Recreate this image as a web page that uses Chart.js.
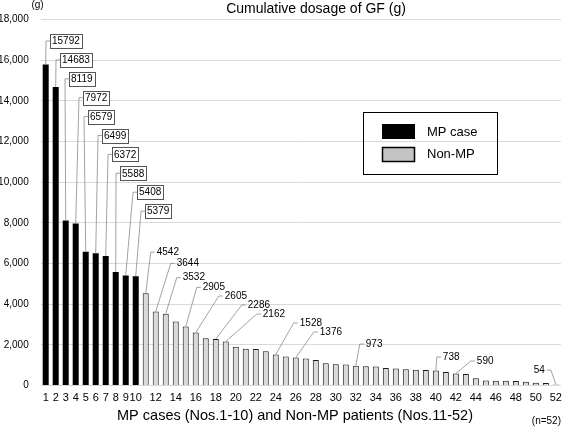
<!DOCTYPE html>
<html>
<head>
<meta charset="utf-8">
<script src="https://cdn.jsdelivr.net/npm/chart.js@4.4.1/dist/chart.umd.min.js"></script>
<style>
  html, body { margin: 0; padding: 0; background: #fff; overflow: hidden; }
  #wrap { width: 562px; height: 428px; position: relative; }
</style>
</head>
<body>
<div id="wrap"><canvas id="gfChart"></canvas></div>
<script>
// data
const cases = ["1","2","3","4","5","6","7","8","9","10","11","12","13","14","15","16","17","18",
  "19","20","21","22","23","24","25","26","27","28","29","30","31","32","33","34","35","36",
  "37","38","39","40","41","42","43","44","45","46","47","48","49","50","51","52"];
const mpDosage = [15792, 14683, 8119, 7972, 6579, 6499, 6372, 5588, 5408, 5379];
const nonMpDosage = [4542, 3644, 3532, 3150, 2905, 2605, 2320, 2286, 2162, 1900, 1810, 1800,
  1690, 1528, 1430, 1376, 1330, 1260, 1090, 1040, 1030, 973, 950, 940, 860, 840, 800, 780,
  760, 738, 670, 590, 560, 360, 240, 230, 230, 225, 180, 130, 125, 54];
const yTicks = [0, 2000, 4000, 6000, 8000, 10000, 12000, 14000, 16000, 18000];
const boxedCases = [1, 2, 3, 4, 5, 6, 7, 8, 9, 10];
const plainCases = [11, 12, 13, 15, 16, 18, 19, 24, 26, 32, 40, 42, 52];

const FONT = "'Liberation Sans', Arial, Helvetica, sans-serif";

// callout placement (pixel offsets from the bar top)
const boxDx = [4.3, 4.3, 3.3, 7.3, 2.3, 6.3, 6.3, 4.3, 11.3, 9.3];
const plainOffsets = {
  11: [11, -41], 12: [21, -48], 13: [17, -36], 15: [17, -39], 16: [29, -36.5],
  18: [32, -34], 19: [37, -27.5], 24: [24, -31.5], 26: [24, -25.5], 32: [10, -21.7],
  40: [7, -13.5], 42: [21, -12.5], 52: [-11, -14.4]
};

const allDosage = mpDosage.concat(nonMpDosage);
const mpSeries = cases.map((c, i) => (i < mpDosage.length ? mpDosage[i] : null));
const nonMpSeries = cases.map((c, i) => (i < mpDosage.length ? null : nonMpDosage[i - mpDosage.length]));

// ✅ Callouts, legend and free texts
const decorations = {
  id: "decorations",
  afterDatasetsDraw(chart) {
    const { ctx, chartArea } = chart;
    const x = chart.scales.x;
    const y = chart.scales.y;
    ctx.save();
    ctx.textBaseline = "middle";
    ctx.font = "10px " + FONT;
    ctx.lineWidth = 0.8;

    // boxed labels for MP cases
    boxedCases.forEach((c, k) => {
      const i = c - 1;
      const bx = x.getPixelForValue(i);
      const by = y.getPixelForValue(allDosage[i]);
      const ly = chartArea.top + 21.5 + k * 18.9;
      const boxL = bx + boxDx[k];
      const txt = String(allDosage[i]);
      const w = ctx.measureText(txt).width + 4;
      ctx.strokeStyle = "#8a8a8a";
      ctx.beginPath();
      ctx.moveTo(bx, by);
      ctx.lineTo(boxL - 4, ly);
      ctx.lineTo(boxL, ly);
      ctx.stroke();
      ctx.fillStyle = "#fff";
      ctx.fillRect(boxL, ly - 7, w, 14);
      ctx.strokeStyle = "#555";
      ctx.lineWidth = 1;
      ctx.strokeRect(Math.round(boxL) + 0.5, Math.round(ly - 7) + 0.5, Math.round(w), 14);
      ctx.lineWidth = 0.8;
      ctx.fillStyle = "#000";
      ctx.textAlign = "left";
      ctx.fillText(txt, boxL + 2, ly + 0.5);
    });

    // plain labels for non-MP patients
    plainCases.forEach((c) => {
      const i = c - 1;
      const bx = x.getPixelForValue(i);
      const by = y.getPixelForValue(allDosage[i]);
      const [dx, dy] = plainOffsets[c];
      const tx = bx + dx;
      const ly = by + dy;
      const right = dx < 0;
      ctx.strokeStyle = "#8a8a8a";
      ctx.beginPath();
      ctx.moveTo(bx, by);
      ctx.lineTo(right ? tx + 6 : tx - 6, ly);
      ctx.lineTo(right ? tx + 2 : tx - 2, ly);
      ctx.stroke();
      ctx.fillStyle = "#000";
      ctx.textAlign = right ? "right" : "left";
      ctx.fillText(String(allDosage[i]), tx, ly);
    });

    // legend
    ctx.strokeStyle = "#000";
    ctx.lineWidth = 1;
    ctx.strokeRect(363.5, 112.5, 134, 62);
    ctx.fillStyle = "#000";
    ctx.fillRect(382, 124, 33, 15);
    ctx.fillStyle = "#c4c4c4";
    ctx.fillRect(382.5, 147.5, 32, 14);
    ctx.lineWidth = 1.5;
    ctx.strokeRect(382.5, 147.5, 32, 14);
    ctx.fillStyle = "#000";
    ctx.textAlign = "left";
    ctx.font = "13px " + FONT;
    ctx.fillText(chart.data.datasets[0].label, 427, 132);
    ctx.fillText(chart.data.datasets[1].label, 427, 154);

    // titles
    ctx.textAlign = "center";
    ctx.font = "14px " + FONT;
    ctx.fillText("Cumulative dosage of GF (g)", 316, 9.5);
    ctx.font = "14.5px " + FONT;
    ctx.fillText("MP cases (Nos.1-10) and Non-MP patients (Nos.11-52)", 295, 416);
    ctx.font = "10px " + FONT;
    ctx.fillText("(g)", 37.5, 5);
    ctx.textAlign = "right";
    ctx.fillText("(n=52)", 561, 421);
    ctx.restore();
  },
};

const chart = new Chart(document.getElementById("gfChart"), {
  type: "bar",
  data: {
    labels: cases,
    datasets: [
      {
        label: "MP case",
        data: mpSeries,
        backgroundColor: "#000",
        borderWidth: 0,
      },
      {
        label: "Non-MP",
        data: nonMpSeries,
        backgroundColor: "#d9d9d9",
        borderColor: "#1a1a1a",
        borderWidth: 1,
      },
    ],
  },
  options: {
    responsive: true,
    maintainAspectRatio: false,
    animation: false,
    grouped: false,
    barPercentage: 0.6,
    categoryPercentage: 1,
    layout: { padding: { top: 19.5, right: 1, bottom: 23.3, left: 0 } },
    plugins: {
      legend: { display: false },
      title: { display: false },
      tooltip: { enabled: false },
    },
    scales: {
      x: {
        grid: { display: false, drawTicks: true, tickLength: 6 },
        border: { display: false },
        afterFit: (axis) => { axis.height = 19.2; },
        ticks: {
          autoSkip: false,
          maxRotation: 0,
          padding: 0,
          color: "#000",
          font: { family: FONT, size: 11 },
          callback: (val, i) => (i < 10 || (i + 1) % 2 === 0 ? cases[i] : ""),
        },
      },
      y: {
        min: yTicks[0],
        max: yTicks[yTicks.length - 1],
        afterBuildTicks: (axis) => { axis.ticks = yTicks.map((v) => ({ value: v })); },
        afterFit: (axis) => { axis.width = 40.7; },
        grid: { color: "#d9d9d9", lineWidth: 1, drawTicks: false },
        border: { display: false },
        ticks: {
          padding: 12,
          color: "#000",
          font: { family: FONT, size: 10 },
          callback: (v) => v.toLocaleString("en-US"),
        },
      },
    },
  },
  plugins: [decorations],
});
</script>
</body>
</html>
